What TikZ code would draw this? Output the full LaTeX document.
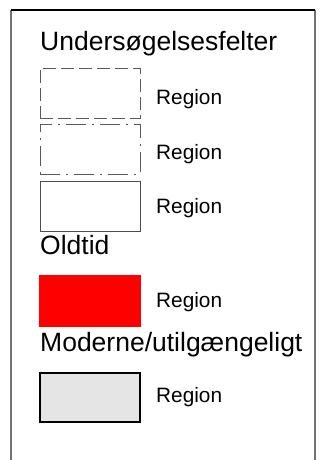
\documentclass[tikz,border=0pt]{standalone}
\usepackage{fontspec}
\setmainfont{Liberation Sans}
\begin{document}
\begin{tikzpicture}[x=1pt,y=-1pt,
  head/.style={anchor=base west,inner sep=0pt,font=\fontsize{26.5}{29}\selectfont},
  lab/.style={anchor=base west,inner sep=0pt,font=\fontsize{20.8}{24}\selectfont},
  swatch/.style={anchor=north west,minimum width=100pt,minimum height=50pt,inner sep=0pt,outer sep=0pt},
  dashbox/.style={swatch,draw=black!65,line width=0.9pt,dash pattern=on 13pt off 5pt},
  dotbox/.style={swatch,draw=black!65,line width=0.9pt,dash pattern=on 20pt off 6pt on 2pt off 6pt},
  plainbox/.style={swatch,draw=black!70,line width=0.9pt},
  redbox/.style={swatch,fill=red,minimum width=102pt,minimum height=52pt},
  greybox/.style={swatch,fill=black!10,draw=black,line width=2.6pt,minimum height=49pt}
]
\useasboundingbox (0,0) rectangle (334,460);
\fill[white] (0,0) rectangle (334,460);
\coordinate (fbl) at (11,460);
\coordinate (ftl) at (11,10);
\coordinate (ftr) at (315,10);
\coordinate (fbr) at (315,460);
\draw[black!55,line width=1.5pt] (fbl) -- (ftl);
\draw[black!55,line width=1.5pt] (ftr) -- (fbr);
\draw[black,line width=1.2pt] (ftl) -- (ftr);

\node[head] (h1) at (40,51) {Undersøgelsesfelter};
\node[dashbox] (b1) at (40,68) {};
\node[lab] (r1) at (156,104) {Region};
\node[dotbox] (b2) at (40,124) {};
\node[lab] (r2) at (156,159) {Region};
\node[plainbox] (b3) at (40,181) {};
\node[lab] (r3) at (156,213) {Region};
\node[head] (h2) at (40,254) {Oldtid};
\node[redbox] (b4) at (39,275) {};
\node[lab] (r4) at (156,307) {Region};
\node[head] (h3) at (40,351.5) {Moderne/utilgængeligt};
\node[greybox] (b5) at (40,373) {};
\node[lab] (r5) at (156,402.5) {Region};
\end{tikzpicture}
\end{document}
